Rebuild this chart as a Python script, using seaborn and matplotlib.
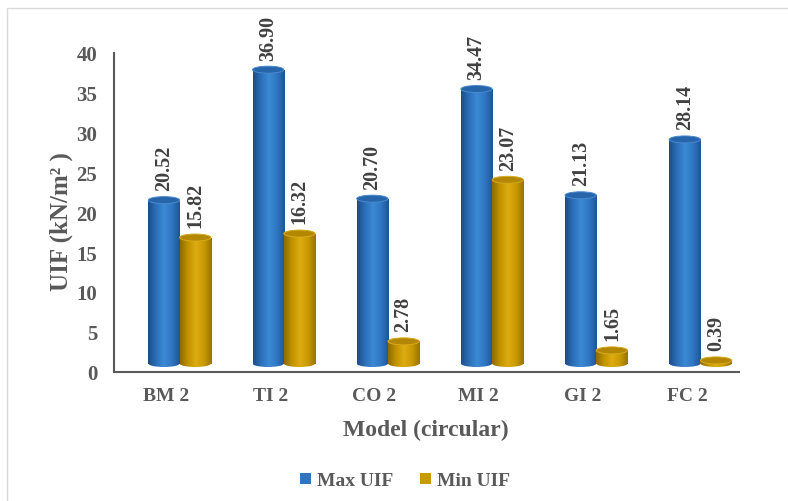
import numpy as np
import pandas as pd
import matplotlib
matplotlib.use("Agg")
import matplotlib.pyplot as plt
import seaborn as sns
from matplotlib import transforms
from matplotlib.patches import Ellipse, Rectangle, Patch
from matplotlib.colors import LinearSegmentedColormap

# ---- data -------------------------------------------------------------
models = ["BM 2", "TI 2", "CO 2", "MI 2", "GI 2", "FC 2"]
max_uif = [20.52, 36.90, 20.70, 34.47, 21.13, 28.14]
min_uif = [15.82, 16.32, 2.78, 23.07, 1.65, 0.39]
series = ["Max UIF", "Min UIF"]
y_ticks = [0, 5, 10, 15, 20, 25, 30, 35, 40]

df = pd.DataFrame({
    "Model": models * 2,
    "UIF": max_uif + min_uif,
    "Series": [series[0]] * len(models) + [series[1]] * len(models),
})

# ---- style ------------------------------------------------------------
sns.set_theme(style="white")
plt.rcParams["font.family"] = ["Liberation Serif", "DejaVu Serif"]
plt.rcParams["font.weight"] = "bold"

TEXT = "#595959"
VALUE_TEXT = "#404040"
palette = {"Max UIF": "#2E75C2", "Min UIF": "#C99A00"}
cap_colors = {"Max UIF": ("#2765AA", "#4A8AD0"), "Min UIF": ("#B38700", "#D6AA1E")}
shades = {
    "Max UIF": ["#1B4C88", "#2C6FB8", "#3C89D4", "#2F77C2", "#1E5494"],
    "Min UIF": ["#8C6A00", "#C29300", "#DCAC12", "#C99A00", "#977200"],
}

fig = plt.figure(figsize=(7.88, 5.02), dpi=100)
ax = fig.add_axes([114 / 788, 1 - 372.5 / 502, (739 - 114) / 788, (372.5 - 54) / 502])

sns.barplot(data=df, x="Model", y="UIF", hue="Series", order=models,
            hue_order=series, palette=palette, width=0.6, dodge=True,
            saturation=1, linewidth=0, legend=False, ax=ax)

ax.set_xlim(-0.5, len(models) - 0.5)
ax.set_ylim(0, 40)

# cylinders sit a little back from the axis plane
lift = transforms.ScaledTranslation(0, 8 / 100, fig.dpi_scale_trans)
tr = ax.transData + lift

axes_px = ax.get_position().height * fig.get_figheight() * fig.dpi
units_per_px = 40 / axes_px
ell_h = 7 * units_per_px
shift = 0.13

grad = np.linspace(0, 1, 256).reshape(1, -1)
for s_idx, (name, container) in enumerate(zip(series, ax.containers)):
    cmap = LinearSegmentedColormap.from_list(name, shades[name])
    z = 2 + 3 * s_idx
    for bar in container:
        bar.set_x(bar.get_x() + shift)
        bar.set_transform(tr)
        bar.set_zorder(z)
        x0 = bar.get_x()
        w = bar.get_width()
        h = bar.get_height()
        xc = x0 + w / 2
        # shaded body
        body = ax.imshow(grad, cmap=cmap, aspect="auto", interpolation="bilinear",
                         extent=[x0, x0 + w, 0, h], transform=tr, zorder=z + 0.1)
        body.set_clip_path(bar)
        # rounded base
        base = Ellipse((xc, 0), w, ell_h, transform=tr, facecolor="none",
                       edgecolor="none", zorder=z)
        ax.add_patch(base)
        base_img = ax.imshow(grad, cmap=cmap, aspect="auto", interpolation="bilinear",
                             extent=[x0, x0 + w, -ell_h, ell_h], transform=tr,
                             zorder=z + 0.05)
        base_img.set_clip_path(base)
        # top cap
        cap_face, cap_edge = cap_colors[name]
        ax.add_patch(Ellipse((xc, h), w, ell_h, transform=tr, facecolor=cap_face,
                             edgecolor=cap_edge, linewidth=0.7, zorder=z + 0.2))
        # value label
        ax.annotate(f"{h:.2f}", xy=(xc, h), xytext=(0, 13), textcoords="offset points",
                    ha="center", va="bottom", rotation=90, fontsize=14.5,
                    color=VALUE_TEXT, fontweight="bold", zorder=10)

ax.set_xlim(-0.5, len(models) - 0.5)
ax.set_ylim(0, 40)

# ---- axes -------------------------------------------------------------
sns.despine(ax=ax)
for side in ("left", "bottom"):
    ax.spines[side].set_color(TEXT)
    ax.spines[side].set_linewidth(1.5)

ax.set_yticks(y_ticks)
ax.set_yticklabels([str(t) for t in y_ticks])
ax.set_xticks(range(len(models)))
ax.set_xticklabels(models)
ax.set_xticks(np.arange(-0.5, len(models)), minor=True)
ax.tick_params(axis="x", which="major", length=0, pad=11, labelsize=14, labelcolor=TEXT)
ax.tick_params(axis="x", which="minor", length=6, width=1.5, color=TEXT, direction="out")
ax.tick_params(axis="y", length=0, pad=12, labelsize=15, labelcolor=TEXT)
for lab in ax.get_xticklabels() + ax.get_yticklabels():
    lab.set_fontweight("bold")

ax.set_xlabel("Model (circular)", fontsize=17, fontweight="bold", color=TEXT)
ax.xaxis.label.set(va="center", ha="center")
ax.xaxis.set_label_coords((426 - 114) / 625, (372.5 - 430) / 318.5)
ax.set_ylabel("UIF (kN/m² )", fontsize=18, fontweight="bold", color=TEXT)
ax.yaxis.label.set(va="center", ha="center")
ax.yaxis.set_label_coords((61 - 114) / 625, (372.5 - 222) / 318.5)

# ---- legend -----------------------------------------------------------
handles = [Patch(facecolor=palette[s], edgecolor="none", label=s) for s in series]
fig.legend(handles=handles, loc="center", bbox_to_anchor=(405 / 788, 1 - 482 / 502),
           ncol=2, frameon=False, handlelength=0.55, handleheight=0.55,
           handletextpad=0.3, columnspacing=1.4, labelcolor=TEXT,
           prop={"weight": "bold", "size": 14})

# thin chart-area frame
fig.add_artist(Rectangle((7 / 788, -0.05), 1.1, (502 - 9) / 502 + 0.05,
                         transform=fig.transFigure, fill=False,
                         edgecolor="#D9D9D9", linewidth=1.0))

fig.savefig("out.png", dpi=100)
